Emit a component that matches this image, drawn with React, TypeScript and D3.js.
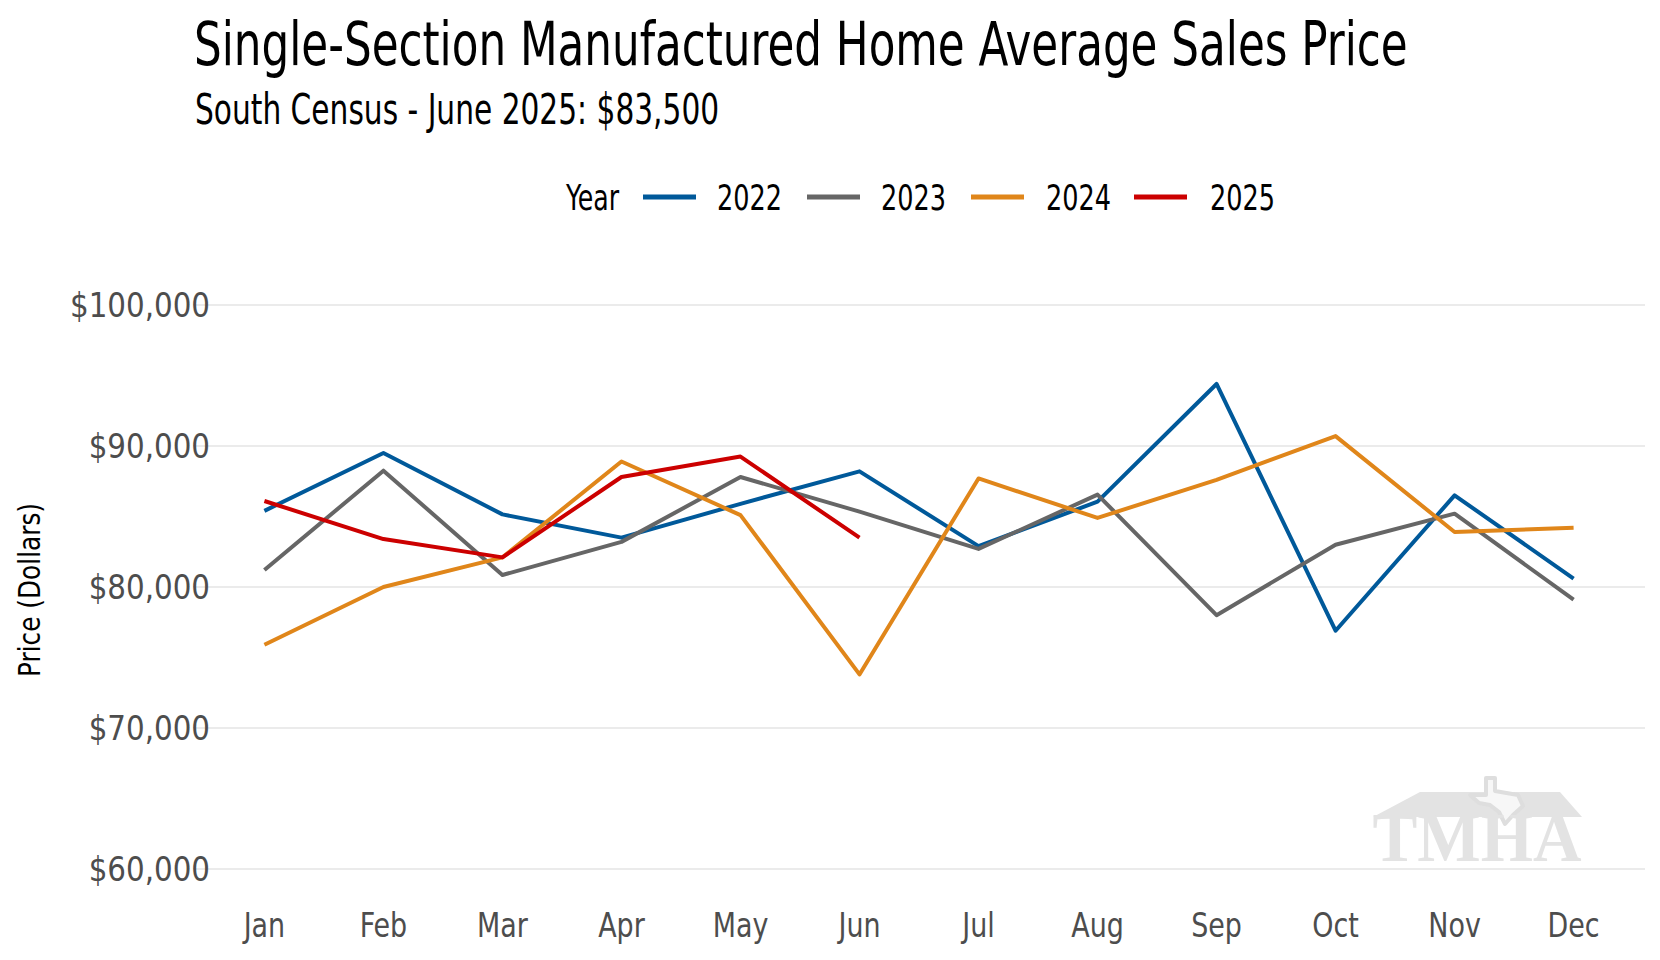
import React, { useLayoutEffect, useRef, useState } from "react";
import * as d3 from "d3";

const months = ["Jan", "Feb", "Mar", "Apr", "May", "Jun", "Jul", "Aug", "Sep", "Oct", "Nov", "Dec"];
const years = ["2022", "2023", "2024", "2025"];
const values2022 = [85400, 89500, 85150, 83500, 85900, 88200, 82900, 86050, 94400, 76900, 86500, 80600];
const values2023 = [81200, 88250, 80850, 83200, 87800, 85350, 82700, 86550, 78000, 83000, 85200, 79100];
const values2024 = [75900, 80000, 82100, 88900, 85100, 73800, 87700, 84900, 87600, 90700, 83900, 84200];
const values2025 = [86100, 83400, 82100, 87800, 89250, 83500];
const yTicks = [60000, 70000, 80000, 90000, 100000];
const colors = ["#00599A", "#666666", "#E0861A", "#CC0000"];

const FONT = "'Liberation Sans Narrow', 'DejaVu Sans Condensed', 'Roboto', sans-serif";

function FitText(props: { x: number; y: number; width: number; fontSize: number; fill?: string; children: string }) {
  const ref = useRef<SVGTextElement>(null);
  const [sx, setSx] = useState(0.8);
  useLayoutEffect(() => {
    if (ref.current) {
      const len = ref.current.getComputedTextLength();
      if (len > 0) setSx(props.width / len);
    }
  }, [props.width, props.children]);
  return (
    <text ref={ref} transform={`translate(${props.x},${props.y}) scale(${sx},1)`} fontSize={props.fontSize} fill={props.fill || "#000"}>
      {props.children}
    </text>
  );
}

export default function App() {
  const W = 1660, H = 960;
  const x = d3.scalePoint<string>().domain(months).range([193, 1645]).padding(0.6);
  const y = d3.scaleLinear().domain([60000, 100000]).range([869, 305]);
  const series = [values2022, values2023, values2024, values2025];
  const line = d3.line<number>().x((_, i) => x(months[i]) as number).y((d) => y(d));
  const fmt = (v: number) => "$" + d3.format(",")(v);

  const legendItems = [
    { lx: 643, tx: 717 },
    { lx: 807, tx: 881 },
    { lx: 971, tx: 1046 },
    { lx: 1134, tx: 1210 },
  ];

  return (
    <svg width={W} height={H} style={{ display: "block", position: "absolute", left: 0, top: 0 }} fontFamily={FONT}>
      <rect width={W} height={H} fill="#fff" />
      <FitText x={194} y={65} width={1214} fontSize={60}>Single-Section Manufactured Home Average Sales Price</FitText>
      <FitText x={195} y={124} width={524} fontSize={42}>South Census - June 2025: $83,500</FitText>

      {/* legend */}
      <FitText x={566} y={210} width={53} fontSize={36}>Year</FitText>
      {years.map((yr, i) => (
        <g key={yr}>
          <line x1={legendItems[i].lx} x2={legendItems[i].lx + 53} y1={197} y2={197} stroke={colors[i]} strokeWidth={5} />
          <FitText x={legendItems[i].tx} y={210} width={65} fontSize={36}>{yr}</FitText>
        </g>
      ))}

      {/* watermark */}
      <g>
        <polygon points="1373,817 1420,792 1560,792 1582,817" fill="#e3e3e3" />
        <polygon
          points="1486,778 1495,778 1495,791 1518,795 1523,806 1513,815 1505,824 1499,812 1490,805 1479,803 1470,795 1486,795"
          fill="#f7f7f7" stroke="#dedede" strokeWidth={4} strokeLinejoin="round"
        />
        <text x={1477} y={861} fontSize={70} fontWeight="bold" fill="#e3e3e3" fontFamily="'Liberation Serif', 'DejaVu Serif', serif" textAnchor="middle" textLength={209} lengthAdjust="spacingAndGlyphs">TMHA</text>
      </g>

      {/* grid */}
      {yTicks.map((t) => (
        <line key={t} x1={193} x2={1645} y1={y(t)} y2={y(t)} stroke="#ebebeb" strokeWidth={2.2} />
      ))}

      {/* y ticks */}
      {yTicks.map((t) => (
        <text key={t} transform={`translate(210,${y(t) + 12}) scale(0.96,1)`} fontSize={34} textAnchor="end" fill="#4d4d4d">{fmt(t)}</text>
      ))}
      <text transform={`translate(40,590) rotate(-90)`} fontSize={31} textAnchor="middle" textLength={174} lengthAdjust="spacingAndGlyphs" fill="#000">Price (Dollars)</text>

      {/* x ticks */}
      {months.map((m) => (
        <text key={m} transform={`translate(${x(m)},937) scale(0.88,1)`} fontSize={34} textAnchor="middle" fill="#4d4d4d">{m}</text>
      ))}

      {/* lines */}
      {series.map((s, i) => (
        <path key={i} d={line(s) || ""} fill="none" stroke={colors[i]} strokeWidth={4} strokeLinejoin="round" />
      ))}
    </svg>
  );
}
